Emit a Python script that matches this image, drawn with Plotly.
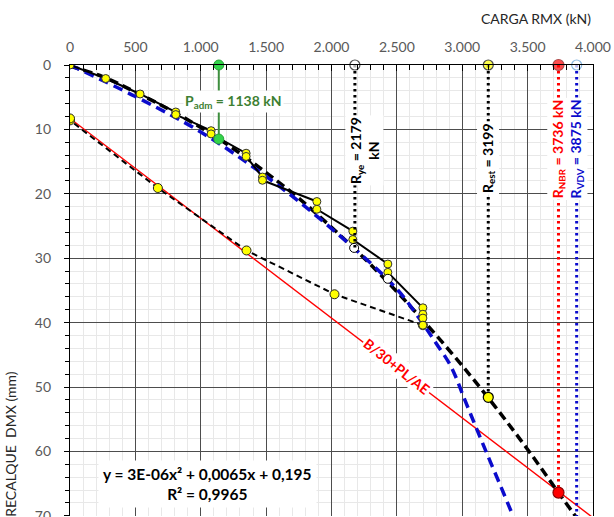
import plotly.graph_objects as go

# ---------------- data ----------------
x_ticks = [0, 500, 1000, 1500, 2000, 2500, 3000, 3500, 4000]
x_ticktext = ["0", "500", "1.000", "1.500", "2.000", "2.500", "3.000", "3.500", "4.000"]
y_ticks = [0, 10, 20, 30, 40, 50, 60, 70]

# load test (loading branch), kN / mm
load_kn = [0, 273, 536, 809, 809, 1079, 1079, 1347, 1347, 1472, 1472,
           1888, 1888, 2163, 2163, 2431, 2431, 2699, 2699, 2699, 2699]
load_mm = [0, 2.1, 4.5, 7.3, 7.7, 10.2, 10.7, 13.7, 14.2, 17.4, 17.9,
           21.2, 22.4, 25.8, 27.1, 30.9, 32.2, 37.7, 38.7, 39.3, 40.4]

# unloading branch
unload_kn = [2699, 2023, 1350, 672, 0, 0]
unload_mm = [40.4, 35.6, 28.8, 19.1, 8.6, 8.3]

# polynomial trendline (y = 3E-06x² + 0,0065x + 0,195), read points
fit_kn = [0, 250, 500, 750, 1000, 1250, 1500, 1750, 2000, 2250, 2500,
          2750, 3000, 3250, 3500, 3750, 3900]
fit_mm = [0.2, 1.8, 4.2, 6.8, 9.7, 13.0, 16.7, 20.7, 25.2, 30.0, 35.2,
          40.8, 46.7, 53.0, 59.7, 66.8, 71.0]

# Van der Veen curve (blue dashed), read points
vdv_kn = [0, 500, 1000, 1500, 2000, 2500, 2700, 2800, 2900, 2950, 3000,
          3100, 3200, 3300, 3388]
vdv_mm = [0, 4.9, 10.4, 17.3, 25.4, 34.8, 40.2, 43.2, 46.3, 48.4, 51.0,
          56.0, 60.9, 65.7, 70.0]

# NBR line  B/30 + PL/AE
nbr_kn = [0, 4000]
nbr_mm = [8.3, 70.3]

# open circles on the fit
open_kn = [2173, 2431]
open_mm = [28.4, 33.2]

# reference loads
P_adm, P_adm_mm = 1138, 11.5
R_ye, R_ye_mm = 2179, 28.4
R_est, R_est_mm = 3199, 51.6
R_nbr, R_nbr_mm = 3736, 66.4
R_vdv, R_vdv_mm = 3875, 70.5

FONT = "Lato"
BLUE = "#0B0BCC"
RED = "#FF0000"
GREEN_TXT = "#3D7F32"

fig = go.Figure()

# NBR red line
fig.add_trace(go.Scatter(x=nbr_kn, y=nbr_mm, mode="lines",
                         line=dict(color=RED, width=1.4), hoverinfo="skip"))
# unloading dashed
fig.add_trace(go.Scatter(x=unload_kn, y=unload_mm, mode="lines+markers",
                         line=dict(color="black", width=2, dash="6px,4px"),
                         marker=dict(size=9, color="#FFFF00", line=dict(color="#222", width=1))))
# polynomial fit
fig.add_trace(go.Scatter(x=fit_kn, y=fit_mm, mode="lines", line_shape="spline",
                         line=dict(color="black", width=3.5, dash="9px,5px")))
# VDV curve
fig.add_trace(go.Scatter(x=vdv_kn, y=vdv_mm, mode="lines", line_shape="spline",
                         line=dict(color=BLUE, width=3.5, dash="10px,6px")))
# loading curve
fig.add_trace(go.Scatter(x=load_kn, y=load_mm, mode="lines+markers",
                         line=dict(color="black", width=2),
                         marker=dict(size=8, color="#FFFF00", line=dict(color="#333", width=1))))
# open circles
fig.add_trace(go.Scatter(x=open_kn, y=open_mm, mode="markers",
                         marker=dict(size=9, color="white", line=dict(color="black", width=1))))

# vertical dotted lines
def vline(x, y1, color, dash, width=3):
    fig.add_trace(go.Scatter(x=[x, x], y=[0, y1], mode="lines",
                             line=dict(color=color, width=width, dash=dash)))

vline(R_ye, R_ye_mm, "black", "2.5px,3.5px")
vline(R_est, R_est_mm, "black", "2.5px,3.5px")
vline(R_nbr, R_nbr_mm, RED, "2.5px,3.5px")
vline(R_vdv, R_vdv_mm, BLUE, "2.5px,3.5px")
# Padm
fig.add_trace(go.Scatter(x=[P_adm, P_adm], y=[0, P_adm_mm], mode="lines+markers",
                         line=dict(color="#3E8E3E", width=2),
                         marker=dict(size=10, color="#33D44A", line=dict(color="#2AA33A", width=1)),
                         cliponaxis=False))

# points
fig.add_trace(go.Scatter(x=[R_est], y=[R_est_mm], mode="markers",
                         marker=dict(size=10, color="#FFFF00", line=dict(color="black", width=1.2))))
fig.add_trace(go.Scatter(x=[R_nbr], y=[R_nbr_mm], mode="markers",
                         marker=dict(size=11, color=RED, line=dict(color="#8B0000", width=1.2))))
fig.add_trace(go.Scatter(x=[R_ye, R_est, R_nbr, R_vdv], y=[0, 0, 0, 0], mode="markers",
                         marker=dict(size=[10, 10, 11, 10],
                                     color=["white", "#FFFF00", RED, "white"],
                                     line=dict(color=["black", "black", "#8B0000", "#5B9BD5"], width=1.2)),
                         cliponaxis=False))

# ---------------- annotations ----------------
ann = []
ann.append(dict(x=R_ye, y=13.2, text="R<sub>ye</sub> = 2179<br>kN", textangle=-90, xshift=9,
                font=dict(family=FONT, size=14, color="black", weight="bold"),
                bgcolor="white", showarrow=False))
ann.append(dict(x=R_est, y=14.4, text="R<sub>est</sub> = 3199", textangle=-90,
                font=dict(family=FONT, size=14, color="black", weight="bold"),
                bgcolor="white", showarrow=False))
ann.append(dict(x=R_nbr, y=13.0, text="R<sub>NBR</sub> = 3736 kN", textangle=-90,
                font=dict(family=FONT, size=14, color=RED, weight="bold"),
                bgcolor="white", showarrow=False))
ann.append(dict(x=R_vdv, y=13.0, text="R<sub>VDV</sub> = 3875 kN", textangle=-90,
                font=dict(family=FONT, size=14, color=BLUE, weight="bold"),
                bgcolor="white", showarrow=False))
ann.append(dict(x=1254, y=5.7, text="P<sub>adm</sub> = 1138 kN",
                font=dict(family=FONT, size=14, color=GREEN_TXT, weight="bold"),
                bgcolor="white", showarrow=False))
ann.append(dict(x=2502, y=46.8, text="B/30+PL/AE", textangle=38.5,
                font=dict(family=FONT, size=14, color=RED, weight="bold"),
                bgcolor="white", showarrow=False))
ann.append(dict(x=1048, y=65.0, text="y = 3E-06x² + 0,0065x + 0,195<br>R² = 0,9965",
                font=dict(family=FONT, size=15.5, color="black", weight="bold"),
                bgcolor="white", showarrow=False, borderpad=4))
# axis titles
ann.append(dict(xref="paper", yref="paper", x=1.0, y=1.0, xanchor="right", yanchor="bottom",
                yshift=36, text="CARGA RMX (kN)", showarrow=False,
                font=dict(family=FONT, size=14, color="#262626")))
ann.append(dict(xref="paper", yref="paper", x=0, xshift=-59, xanchor="center",
                y=0.16, yanchor="middle", textangle=-90,
                text="RECALQUE  DMX (mm)", showarrow=False,
                font=dict(family=FONT, size=14, color="#262626")))

fig.update_layout(
    width=614, height=517,
    margin=dict(l=70, r=21, t=65, b=1, autoexpand=False),
    paper_bgcolor="white", plot_bgcolor="white",
    showlegend=False,
    annotations=ann,
    font=dict(family=FONT),
)
fig.update_xaxes(
    range=[0, 4000], side="top", tickvals=x_ticks, ticktext=x_ticktext,
    tickfont=dict(family=FONT, size=14, color="#595959"),
    showgrid=True, gridcolor="#4D4D4D", gridwidth=1,
    showline=True, linecolor="black", linewidth=1.3, mirror=False,
    ticks="inside", ticklen=6, tickcolor="black", zeroline=False,
    ticklabelstandoff=6, automargin=False,
    minor=dict(dtick=100, showgrid=True, gridcolor="#E8E8E8", gridwidth=1,
               ticks="inside", ticklen=5, tickcolor="black"),
)
fig.update_yaxes(
    range=[70.03, 0], tickvals=y_ticks,
    tickfont=dict(family=FONT, size=14, color="#595959"),
    showgrid=True, gridcolor="#4D4D4D", gridwidth=1,
    showline=True, linecolor="black", linewidth=1.3, mirror=True,
    ticks="outside", ticklen=5, tickcolor="black", zeroline=False,
    ticklabelstandoff=10, ticklabeloverflow="allow", automargin=False,
    minor=dict(dtick=2, showgrid=True, gridcolor="#E8E8E8", gridwidth=1,
               ticks="outside", ticklen=4, tickcolor="black"),
)

fig.write_html("out.html")
